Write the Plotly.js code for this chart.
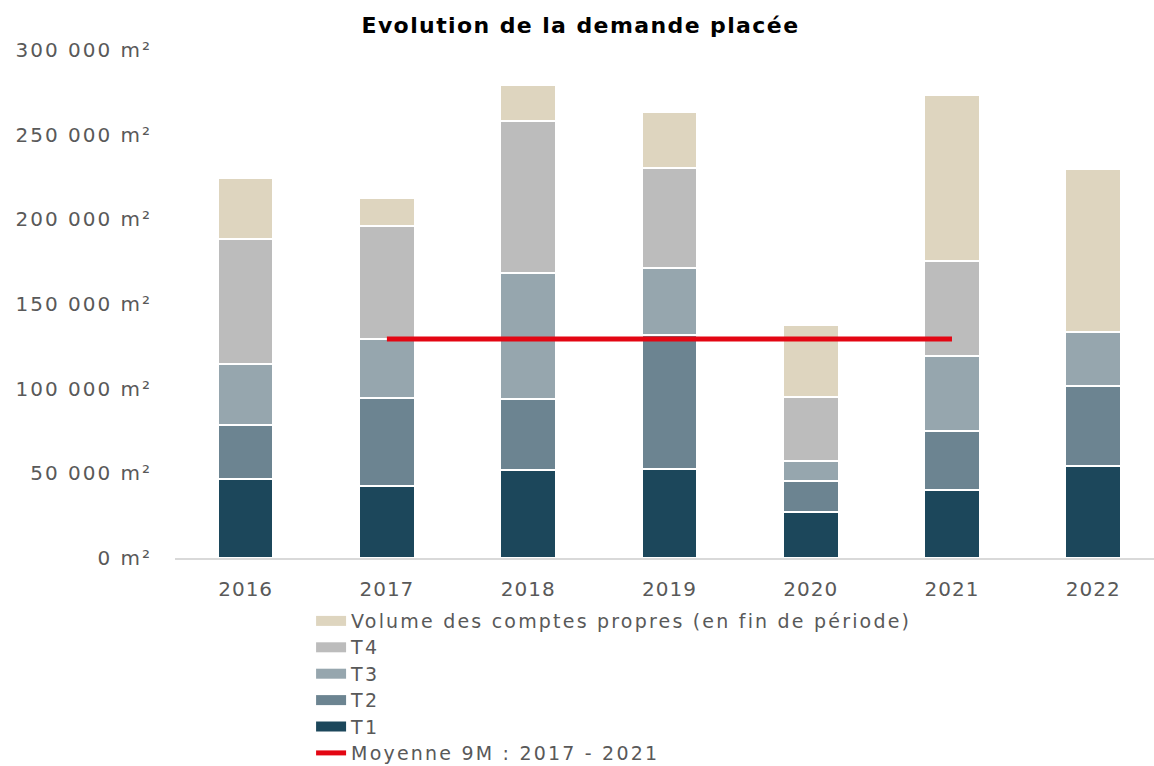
<!DOCTYPE html>
<html>
<head>
<meta charset="utf-8">
<script src="https://cdn.plot.ly/plotly-3.0.1.min.js"></script>
<style>
html,body{margin:0;padding:0;background:#fff;}
#chart{width:1154px;height:766px;}
#chart .ytick text{letter-spacing:2px;}
#chart .xtick text{letter-spacing:1px;}
#chart .legendtext{font-size:19px !important;letter-spacing:2.2px;}
#chart .legend .scrollbox{clip-path:none !important;}
#chart .gtitle{letter-spacing:1.4px;}
</style>
</head>
<body>
<div id="chart"></div>
<script>
const years = ['2016','2017','2018','2019','2020','2021','2022'];
const t1 = [46700, 42500, 52000, 52600, 27200, 40200, 54300];
const t2 = [31800, 52000, 41900, 79100, 18300, 34800, 47300];
const t3 = [36100, 34800, 74400, 39600, 11800, 44300, 31900];
const t4 = [73800, 66700, 89700, 59000, 37800, 56100, 0];
const comptesPropres = [36000, 16600, 21300, 33100, 42500, 98000, 96200];
const moyenneYears = ['2017', '2021'];
const moyenneValues = [129300, 129300];
const yTickValues = [0, 50000, 100000, 150000, 200000, 250000, 300000];
const yTickLabels = ['0 m²', '50 000 m²', '100 000 m²', '150 000 m²', '200 000 m²', '250 000 m²', '300 000 m²'];

const names = {
  cp: 'Volume des comptes propres (en fin de période)',
  t4: 'T4', t3: 'T3', t2: 'T2', t1: 'T1',
  moy: 'Moyenne 9M : 2017 - 2021'
};
const colors = {t1:'#1c475b', t2:'#6c8491', t3:'#96a6ae', t4:'#bcbcbc', cp:'#ded5bf', moy:'#e30613'};

function barTrace(y, name, color) {
  return {
    type: 'bar', x: years, y: y, name: name, showlegend: false, legendgroup: name,
    marker: {color: color, line: {color: '#ffffff', width: 1.5}},
    width: 0.39, hoverinfo: 'x+y+name'
  };
}
// legend-only key entries (wide swatches like the original legend)
function keyTrace(name, color, rank, w) {
  return {type: 'scatter', mode: 'lines', x: [null], y: [null], name: name, legendgroup: name,
          legendrank: rank, line: {color: color, width: w}, hoverinfo: 'skip'};
}

const data = [
  barTrace(t1, names.t1, colors.t1),
  barTrace(t2, names.t2, colors.t2),
  barTrace(t3, names.t3, colors.t3),
  barTrace(t4, names.t4, colors.t4),
  barTrace(comptesPropres, names.cp, colors.cp),
  {type: 'scatter', mode: 'lines', x: moyenneYears, y: moyenneValues, name: names.moy, legendrank: 6,
   line: {color: colors.moy, width: 5}},
  keyTrace(names.cp, colors.cp, 1, 10),
  keyTrace(names.t4, colors.t4, 2, 10),
  keyTrace(names.t3, colors.t3, 3, 10),
  keyTrace(names.t2, colors.t2, 4, 10),
  keyTrace(names.t1, colors.t1, 5, 10)
];

const fontFam = 'DejaVu Sans, sans-serif';
const layout = {
  width: 1154, height: 766,
  margin: {l: 175, r: 0, t: 50, b: 208, pad: 0, autoexpand: false},
  paper_bgcolor: '#ffffff', plot_bgcolor: '#ffffff',
  barmode: 'stack',
  font: {family: fontFam, color: '#595959', size: 19},
  title: {text: '<b>Evolution de la demande placée</b>', x: 0.503, xref: 'container', y: 0.967, yref: 'container', yanchor: 'middle',
          font: {family: fontFam, size: 22, color: '#000000'}},
  xaxis: {type: 'category', range: [-0.5, 6.43], showgrid: false, showline: true, linecolor: '#d9d9d9', linewidth: 2,
          ticks: 'outside', ticklen: 12, tickcolor: 'rgba(0,0,0,0)', tickfont: {size: 20, color: '#595959'}},
  yaxis: {range: [0, 300000], tickmode: 'array', tickvals: yTickValues, ticktext: yTickLabels,
          showgrid: false, zeroline: false, showline: false, ticks: 'outside', ticklen: 18, tickcolor: 'rgba(0,0,0,0)',
          tickfont: {size: 20, color: '#595959'}},
  legend: {orientation: 'v', traceorder: 'normal', x: 0.139, xanchor: 'left', y: -0.088, yanchor: 'top',
           font: {size: 18, color: '#595959'}, itemwidth: 30, tracegroupgap: 0, bgcolor: 'rgba(0,0,0,0)',
           itemclick: false, itemdoubleclick: false},
  showlegend: true
};

Plotly.newPlot('chart', data, layout, {displayModeBar: false, staticPlot: true});
</script>
</body>
</html>
